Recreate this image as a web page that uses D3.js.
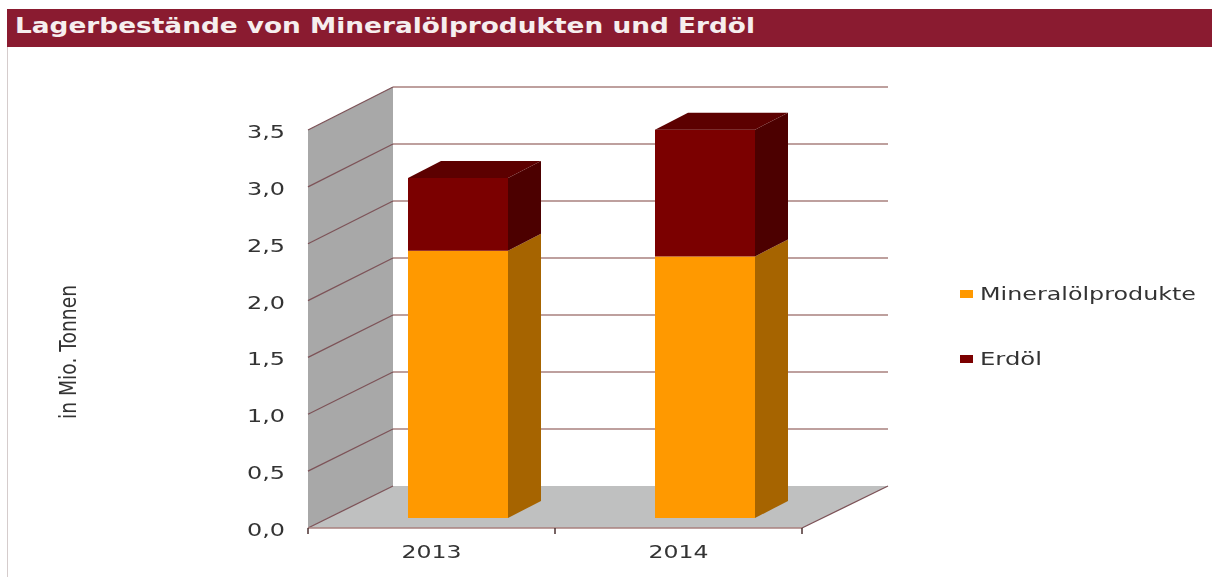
<!DOCTYPE html>
<html>
<head>
<meta charset="utf-8">
<script src="https://cdn.jsdelivr.net/npm/d3@7"></script>
<style>
html, body { margin: 0; padding: 0; background: #fff; overflow: hidden; }
svg { display: block; filter: blur(0.45px); }
text { font-family: "DejaVu Sans", sans-serif; }
</style>
</head>
<body>
<script>
"use strict"
const years = ['2013', '2014'];
const seriesNames = ['Mineralölprodukte', 'Erdöl'];
const mineraloel = [2.35, 2.3];
const erdoel = [0.64, 1.115];
const yTicks = [0, 0.5, 1, 1.5, 2, 2.5, 3, 3.5];
const titleText = 'Lagerbestände von Mineralölprodukten und Erdöl';
const yTitle = 'in Mio. Tonnen';

const w = 1212;
const h = 577;
// depth of the fake 3d box, and of the bars inside it
const depthX = 85, depthY = 42;
const barDepthX = 33, barDepthY = 17;
const barInsetY = 10;

const colors = {
	wine: '#8a1b30',
	grid: '#a8817e',
	wallGrid: '#7d5358',
	wall: '#a8a8a8',
	floor: '#bfc0c0',
	text: '#333',
	orange: ['#ff9900', '#a66400', '#c27500'],
	red: ['#7b0000', '#4c0000', '#5c0000']
};

const mySvg = d3.select('body').append('svg')
	.attr('width', w)
	.attr('height', h);

const x = d3.scaleBand().domain(years).range([308, 802]).paddingInner(0).paddingOuter(0);
const y = d3.scaleLinear().domain([0, 3.5]).range([528, 130]);
const fmt = d => d.toFixed(1).replace('.', ',');
const poly = pts => pts.map(p => p.join(',')).join(' ');

// title band and frame
mySvg.append('rect').attr('x', 7).attr('y', 9).attr('width', w - 7).attr('height', 38).attr('fill', colors.wine);
mySvg.append('line').attr('x1', 7.5).attr('x2', 7.5).attr('y1', 47).attr('y2', h).attr('stroke', '#d5cccc');
mySvg.append('text')
	.attr('x', 15).attr('y', 33)
	.attr('fill', '#f6eeee')
	.attr('font-weight', 'bold')
	.attr('font-size', 21)
	.attr('textLength', 740)
	.attr('lengthAdjust', 'spacingAndGlyphs')
	.text(titleText);

const x0 = x.range()[0], x1 = x.range()[1];

// side wall and floor
mySvg.append('polygon')
	.attr('points', poly([[x0, y(0)], [x0, y(3.5)], [x0 + depthX, y(3.5) - depthY - 1], [x0 + depthX, y(0) - depthY]]))
	.attr('fill', colors.wall);
mySvg.append('polygon')
	.attr('points', poly([[x0, y(0)], [x0 + depthX, y(0) - depthY], [x1 + depthX + 1, y(0) - depthY], [x1, y(0)]]))
	.attr('fill', colors.floor);

// grid lines on wall and back
const grid = mySvg.append('g').attr('fill', 'none').attr('stroke-width', 1.3);
grid.selectAll('line.back')
	.data(yTicks.slice(1))
	.enter()
	.append('line')
	.attr('class', 'back')
	.attr('stroke', colors.grid)
	.attr('x1', x0 + depthX).attr('x2', x1 + depthX + 1)
	.attr('y1', d => y(d) - depthY - (d / 3.5))
	.attr('y2', d => y(d) - depthY - (d / 3.5));
grid.selectAll('line.wall')
	.data(yTicks)
	.enter()
	.append('line')
	.attr('class', 'wall')
	.attr('stroke', colors.wallGrid)
	.attr('x1', x0).attr('y1', d => y(d))
	.attr('x2', x0 + depthX).attr('y2', d => y(d) - depthY - (d / 3.5));
grid.append('line')
	.attr('stroke', colors.wallGrid)
	.attr('x1', x1).attr('y1', y(0))
	.attr('x2', x1 + depthX + 1).attr('y2', y(0) - depthY);

// bars, one stacked 3d column per year
const barWidth = 100;
const barShift = 26.5;
const barY = d => y(d) - barInsetY;
const stacks = years.map((yr, i) => ({
	year: yr,
	parts: [
		{ from: 0, to: mineraloel[i], c: colors.orange },
		{ from: mineraloel[i], to: mineraloel[i] + erdoel[i], c: colors.red }
	]
}));

const bars = mySvg.selectAll('g.bar')
	.data(stacks)
	.enter()
	.append('g')
	.attr('class', 'bar');

bars.each(function (d) {
	const g = d3.select(this);
	const left = x(d.year) + (x.bandwidth() - barWidth) / 2 + barShift;
	const right = left + barWidth;
	d.parts.forEach((p, k) => {
		const top = barY(p.to), bot = barY(p.from);
		g.append('rect')
			.attr('x', left).attr('y', top)
			.attr('width', barWidth).attr('height', bot - top)
			.attr('fill', p.c[0]);
		g.append('polygon')
			.attr('points', poly([[right, bot], [right, top], [right + barDepthX, top - barDepthY], [right + barDepthX, bot - barDepthY]]))
			.attr('fill', p.c[1]);
		if (k === d.parts.length - 1) {
			g.append('polygon')
				.attr('points', poly([[left, top], [left + barDepthX, top - barDepthY], [right + barDepthX, top - barDepthY], [right, top]]))
				.attr('fill', p.c[2]);
		}
	});
});

// axes
mySvg.append('line')
	.attr('x1', x0).attr('x2', x1)
	.attr('y1', y(0)).attr('y2', y(0))
	.attr('stroke', colors.grid)
	.attr('stroke-width', 1.5);

const xAxis = d3.axisBottom(x).tickSize(0).tickPadding(17);
const xg = mySvg.append('g')
	.attr('transform', 'translate(0,' + y(0) + ')')
	.call(xAxis);
xg.select('.domain').remove();
xg.selectAll('text')
	.attr('font-size', 18)
	.attr('font-family', '"DejaVu Sans"')
	.attr('fill', colors.text)
	.attr('textLength', 60)
	.attr('lengthAdjust', 'spacingAndGlyphs');
xg.selectAll('.sep')
	.data([x0, x0 + x.bandwidth(), x1])
	.enter()
	.append('line')
	.attr('class', 'sep')
	.attr('x1', d => d).attr('x2', d => d)
	.attr('y1', 0).attr('y2', 6)
	.attr('stroke', '#4a3030').attr('stroke-width', 1.5);

const yAxis = d3.axisLeft(y).tickValues(yTicks).tickFormat(fmt).tickSize(0).tickPadding(23);
const yg = mySvg.append('g')
	.attr('transform', 'translate(' + x0 + ',0)')
	.call(yAxis);
yg.select('.domain').remove();
yg.selectAll('text')
	.attr('font-size', 18)
	.attr('font-family', '"DejaVu Sans"')
	.attr('fill', colors.text)
	.attr('dy', '0.42em')
	.attr('textLength', 38)
	.attr('lengthAdjust', 'spacingAndGlyphs');

// y title, the original is a condensed face
mySvg.append('text')
	.attr('transform', 'translate(76,352) rotate(-90)')
	.attr('text-anchor', 'middle')
	.attr('font-family', '"Liberation Sans", sans-serif')
	.attr('font-size', 23)
	.attr('fill', colors.text)
	.attr('textLength', 134)
	.attr('lengthAdjust', 'spacingAndGlyphs')
	.text(yTitle);

// legend
const legendY = d3.scalePoint().domain(seriesNames).range([294, 359]);
const legendColor = d3.scaleOrdinal().domain(seriesNames).range([colors.orange[0], colors.red[0]]);
const legendWidth = d3.scaleOrdinal().domain(seriesNames).range([216, 62]);
const legend = mySvg.selectAll('g.legend')
	.data(seriesNames)
	.enter()
	.append('g')
	.attr('class', 'legend')
	.attr('transform', d => 'translate(960,' + legendY(d) + ')');
legend.append('rect')
	.attr('x', 0).attr('y', -4)
	.attr('width', 13).attr('height', 8)
	.attr('fill', d => legendColor(d));
legend.append('text')
	.attr('x', 20).attr('y', 6)
	.attr('font-size', 18)
	.attr('fill', colors.text)
	.attr('textLength', d => legendWidth(d))
	.attr('lengthAdjust', 'spacingAndGlyphs')
	.text(d => d);
</script>
</body>
</html>
